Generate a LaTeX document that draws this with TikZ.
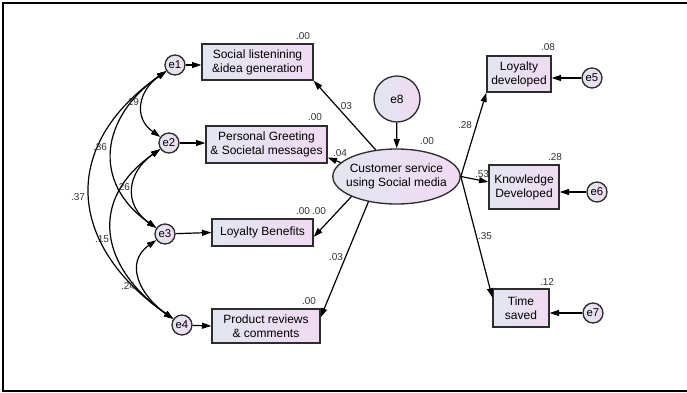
\documentclass[tikz,border=0pt]{standalone}
\usepackage{fontspec}
\setmainfont{Liberation Sans}
\usetikzlibrary{arrows.meta,shapes.geometric}
\definecolor{shL}{RGB}{226,230,240}
\definecolor{shR}{RGB}{240,218,242}
\definecolor{edgec}{RGB}{45,45,45}
\begin{document}
\begin{tikzpicture}[x=0.75pt,y=0.75pt,
  obs/.style={draw=edgec, line width=1pt, left color=shL, right color=shR, inner sep=0pt, align=center, font=\fontsize{9}{10.5}\selectfont},
  err/.style={draw=edgec, line width=1pt, circle, left color=shL, right color=shR, inner sep=0pt, minimum size=15pt, font=\fontsize{8.5}{10}\selectfont},
  arr/.style={line width=0.9pt, draw=black, -{Triangle[length=7pt,width=4.5pt]}},
  cov/.style={line width=0.9pt, {Triangle[length=7pt,width=4.5pt]}-{Triangle[length=7pt,width=4.5pt]}, out=215, in=145},
  lbl/.style={font=\fontsize{7.5}{8}\selectfont, inner sep=0pt, text=black!80}
]
\useasboundingbox (0,0) rectangle (687,-393);
\draw[line width=1.5pt] (687,-3) -- (3,-3) -- (3,-391) -- (687,-391);

% observed variables
\node[obs, minimum width=83.25pt, minimum height=27pt] (b1) at (257.5,-62) {Social listenining\\\&idea generation};
\node[obs, minimum width=90.75pt, minimum height=27.75pt] (b2) at (266.5,-144.5) {Personal Greeting\\\& Societal messages};
\node[obs, minimum width=75.75pt, minimum height=20.25pt] (b3) at (262.5,-232.5) {Loyalty Benefits};
\node[obs, minimum width=81pt, minimum height=25.5pt] (b4) at (266,-326) {Product reviews\\\& comments};
\node[obs, minimum width=48pt, minimum height=27pt] (b5) at (519,-74) {Loyalty\\developed};
\node[obs, minimum width=52.5pt, minimum height=33pt] (b6) at (524,-187) {Knowledge\\Developed};
\node[obs, minimum width=42pt, minimum height=28.5pt] (b7) at (521,-308) {Time\\saved};
\node[obs, ellipse, inner xsep=-4pt, inner ysep=0pt, minimum width=95.25pt, minimum height=41.25pt] (el) at (396.5,-176.5) {Customer service\\using Social media};

% errors
\node[err, minimum size=34.5pt, font=\fontsize{9}{10}\selectfont] (e8) at (397,-99) {e8};
\node[err] (e1) at (175,-65) {e1};
\node[err] (e2) at (169,-143) {e2};
\node[err] (e3) at (165,-234) {e3};
\node[err] (e4) at (182,-325) {e4};
\node[err] (e5) at (592,-78) {e5};
\node[err] (e6) at (597,-192) {e6};
\node[err] (e7) at (593,-313) {e7};

% error arrows
\draw[arr] (e1.east) -- (e1.east -| b1.west);
\draw[arr] (e2.east) -- (e2.east -| b2.west);
\draw[arr] (e3) -- (b3.west);
\draw[arr] (e4) -- (b4.west);
\draw[arr] (e5.west) -- (e5.west -| b5.east);
\draw[arr] (e6.west) -- (e6.west -| b6.east);
\draw[arr] (e7.west) -- (e7.west -| b7.east);
\draw[arr] (e8) -- (el);

% structural paths
\draw[arr] (el.128) -- (b1.south east);
\draw[arr] (el.166) -- (b2.-12);
\draw[arr] (el.204) -- (b3.-5);
\draw[arr] (el.222) -- (b4.9);
\draw[arr] (el.east) -- (b5.south west);
\draw[arr] (el.east) -- (b6.172);
\draw[arr] (el.east) -- (b7.160);

% covariances
\draw[cov, looseness=1.3] (e1) to (e2);
\draw[cov, looseness=1.3] (e1) to (e3);
\draw[cov, looseness=1.34] (e1) to (e4);
\draw[cov, looseness=1.32] (e2) to (e3);
\draw[cov, looseness=1.34] (e2) to (e4);
\draw[cov, looseness=1.27] (e3) to (e4);

% labels
\node[lbl] (l1) at (303,-36) {.00};
\node[lbl] (l2) at (315,-117) {.00};
\node[lbl] (l3) at (303,-211) {.00};
\node[lbl] (l4) at (309,-301) {.00};
\node[lbl] (l5) at (548,-47) {.08};
\node[lbl] (l6) at (555,-157) {.28};
\node[lbl] (l7) at (547,-282) {.12};
\node[lbl] (l8) at (427,-141) {.00};
\node[lbl] (p1) at (345,-106) {.03};
\node[lbl] (p2) at (340,-153) {.04};
\node[lbl] (p3) at (319,-211) {.00};
\node[lbl] (p4) at (336,-257) {.03};
\node[lbl] (p5) at (465,-125) {.28};
\node[lbl] (p6) at (482,-174) {.53};
\node[lbl] (p7) at (485,-236) {.35};
\node[lbl] (c12) at (132,-102) {.19};
\node[lbl] (c13) at (100,-147) {.36};
\node[lbl] (c14) at (78,-197) {.37};
\node[lbl] (c23) at (123,-187) {.26};
\node[lbl] (c24) at (102,-239) {.15};
\node[lbl] (c34) at (128,-286) {.24};
\end{tikzpicture}
\end{document}
